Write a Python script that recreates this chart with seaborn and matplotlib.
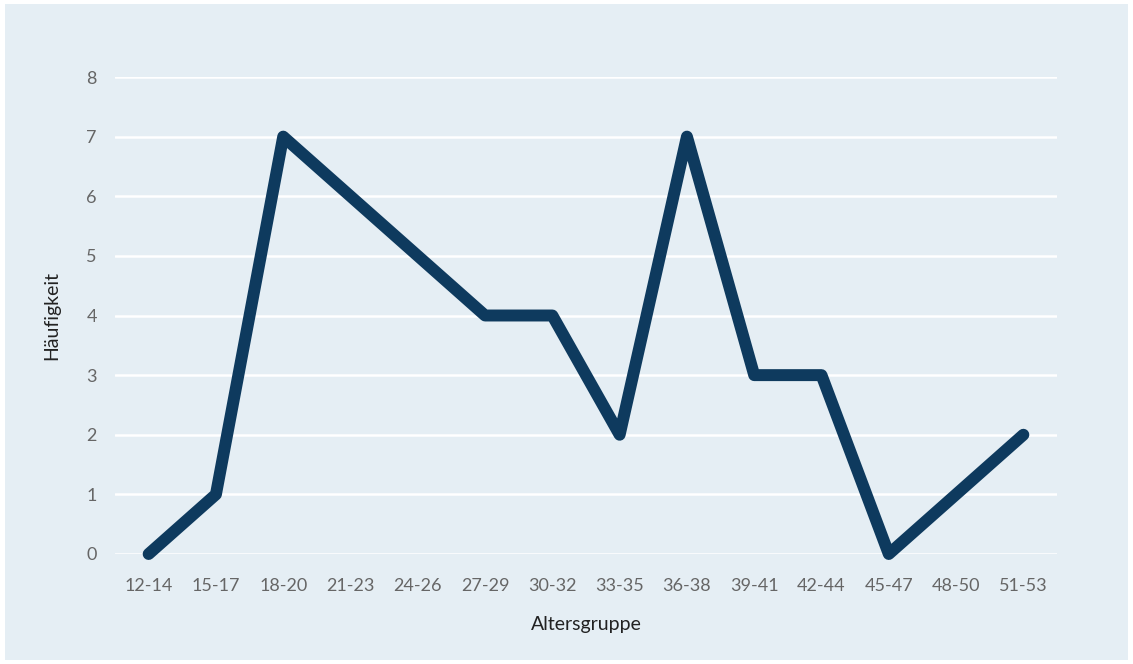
import matplotlib
matplotlib.use("Agg")
import matplotlib.pyplot as plt
import seaborn as sns
import pandas as pd
from matplotlib.patches import Rectangle

age_groups = ["12-14", "15-17", "18-20", "21-23", "24-26", "27-29", "30-32",
              "33-35", "36-38", "39-41", "42-44", "45-47", "48-50", "51-53"]
counts = [0, 1, 7, 6, 5, 4, 4, 2, 7, 3, 3, 0, 1, 2]

BG = "#e5eef4"
LINE = "#0e3a5e"
TXT = "#666666"

sns.set_theme(style="white")
plt.rcParams["font.family"] = ["Lato", "DejaVu Sans"]

df = pd.DataFrame({"Altersgruppe": age_groups, "Häufigkeit": counts})

fig = plt.figure(figsize=(11.33, 6.64), dpi=100, facecolor="white")
fig.patches.append(Rectangle((5 / 1133, 4 / 664), 1123 / 1133, 656 / 664,
                             transform=fig.transFigure, facecolor=BG,
                             edgecolor="none", zorder=-10))
ax = fig.add_axes([115 / 1133, 1 - 554 / 664, (1057 - 115) / 1133, (554 - 77) / 664])
ax.set_facecolor(BG)

x = list(range(len(age_groups)))
sns.lineplot(x=x, y=df["Häufigkeit"], ax=ax, color=LINE, linewidth=8.6,
             solid_capstyle="round", solid_joinstyle="round", clip_on=False)

ax.set_xlim(-0.5, len(age_groups) - 0.5)
ax.set_ylim(0, 8)
ax.set_xticks(x)
ax.set_xticklabels(age_groups)
ax.set_yticks(range(0, 9))
ax.yaxis.grid(True, color="white", linewidth=1.8)
ax.set_axisbelow(True)
for s in ax.spines.values():
    s.set_visible(False)
ax.tick_params(axis="both", length=0, colors=TXT, labelsize=13)
ax.tick_params(axis="x", pad=17)
ax.tick_params(axis="y", pad=13)

ax.set_xlabel("Altersgruppe", fontsize=14, color="#222222", labelpad=16)
ax.set_ylabel("Häufigkeit", fontsize=14, color="#222222", labelpad=19)

fig.savefig("out.png", dpi=100, facecolor="white")
